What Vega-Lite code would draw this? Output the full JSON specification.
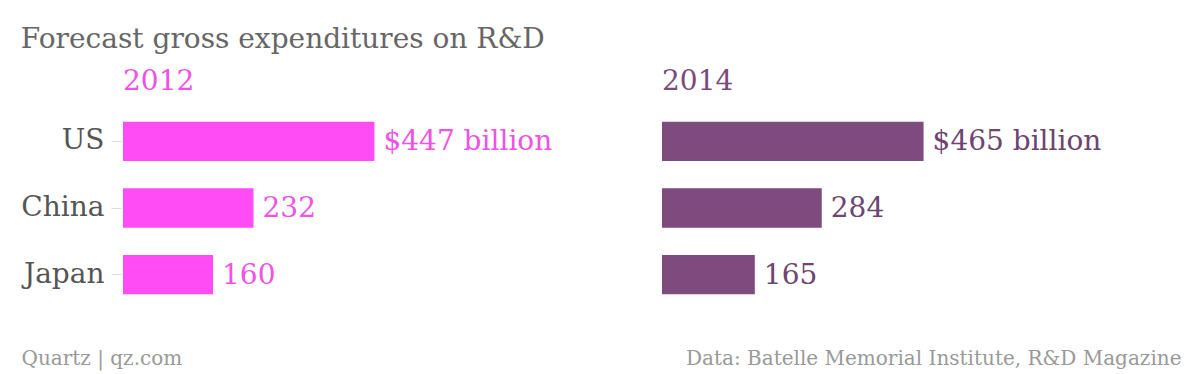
{
  "$schema": "https://vega.github.io/schema/vega-lite/v6.json",
  "padding": {"left": 20, "top": 26, "right": 20, "bottom": 5},
  "title": {"text": "Forecast gross expenditures on R&D", "anchor": "start", "fontSize": 28, "font": "DejaVu Serif", "fontWeight": "normal", "color": "#666666", "offset": 14},
  "data": {"values": [
    {"year": 2012, "country": "US", "value": 447, "label": "$447 billion"},
    {"year": 2012, "country": "China", "value": 232, "label": "232"},
    {"year": 2012, "country": "Japan", "value": 160, "label": "160"},
    {"year": 2014, "country": "US", "value": 465, "label": "$465 billion"},
    {"year": 2014, "country": "China", "value": 284, "label": "284"},
    {"year": 2014, "country": "Japan", "value": 165, "label": "165"}
  ]},
  "config": {"font": "DejaVu Serif", "view": {"stroke": null}, "concat": {"spacing": 89}},
  "hconcat": [
    {
      "width": 450, "height": 200,
      "title": {"text": "2012", "anchor": "start", "frame": "group", "color": "#f050e8", "fontSize": 28, "fontWeight": "normal", "offset": 12},
      "transform": [{"filter": "datum.year == 2012"}],
      "encoding": {
        "y": {"field": "country", "type": "nominal", "sort": ["US", "China", "Japan"], "scale": {"paddingInner": 0.41, "paddingOuter": 0.205},
          "axis": {"title": null, "domain": false, "tickColor": "#dddddd", "tickSize": 10, "offset": 2, "labelPadding": 7, "labelFontSize": 28, "labelColor": "#555555", "labelFont": "DejaVu Serif"}},
        "x": {"field": "value", "type": "quantitative", "scale": {"domain": [0, 800]},
          "axis": {"labels": false, "ticks": false, "domain": false, "grid": false, "title": "Quartz | qz.com", "titleAnchor": "start", "titleAlign": "left", "titleX": -102, "titleY": 56, "titleBaseline": "alphabetic", "titleFontSize": 20, "titleFontWeight": "normal", "titleColor": "#999999", "titleFont": "DejaVu Serif"}}
      },
      "layer": [
        {"mark": {"type": "bar", "color": "#ff4cf5"}},
        {"mark": {"type": "text", "align": "left", "dx": 9, "dy": 1, "fontSize": 28, "color": "#ee52e6", "baseline": "middle"}, "encoding": {"text": {"field": "label"}}}
      ]
    },
    {
      "width": 450, "height": 200,
      "title": {"text": "2014", "anchor": "start", "frame": "group", "color": "#7a4a7a", "fontSize": 28, "fontWeight": "normal", "offset": 12},
      "transform": [{"filter": "datum.year == 2014"}],
      "encoding": {
        "y": {"field": "country", "type": "nominal", "sort": ["US", "China", "Japan"], "scale": {"paddingInner": 0.41, "paddingOuter": 0.205}, "axis": null},
        "x": {"field": "value", "type": "quantitative", "scale": {"domain": [0, 800]},
          "axis": {"labels": false, "ticks": false, "domain": false, "grid": false, "title": "Data: Batelle Memorial Institute, R&D Magazine", "titleAnchor": "end", "titleAlign": "right", "titleX": 519, "titleY": 56, "titleBaseline": "alphabetic", "titleFontSize": 20, "titleFontWeight": "normal", "titleColor": "#999999", "titleFont": "DejaVu Serif"}}
      },
      "layer": [
        {"mark": {"type": "bar", "color": "#7f4a7d"}},
        {"mark": {"type": "text", "align": "left", "dx": 9, "dy": 1, "fontSize": 28, "color": "#6e4470", "baseline": "middle"}, "encoding": {"text": {"field": "label"}}}
      ]
    }
  ]
}
